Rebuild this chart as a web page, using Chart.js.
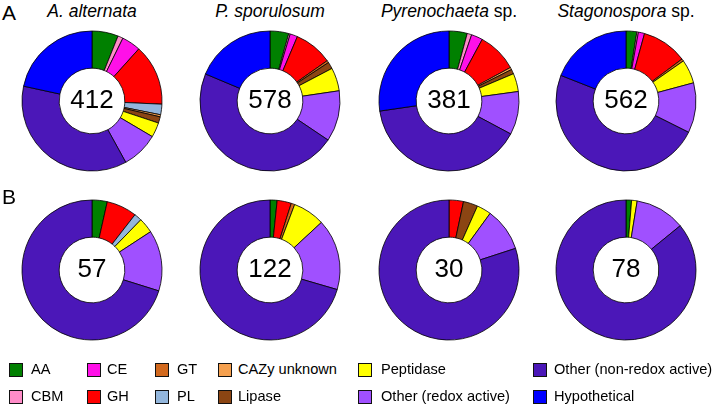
<!DOCTYPE html>
<html>
<head>
<meta charset="utf-8">
<script src="https://cdn.jsdelivr.net/npm/chart.js@4"></script>
<style>
  body { margin: 0; background: #fff; font-family: 'Liberation Sans', Arial, sans-serif; }
  #page { position: relative; width: 715px; height: 406px; overflow: hidden; }
  .pie { position: absolute; width: 150px; height: 150px; }
  .title { position: absolute; top: 1px; font-size: 17.5px; transform: translateX(-50%); white-space: nowrap; color: #000; }
  .panel { position: absolute; left: 2px; font-size: 21px; color: #000; }
  .key { position: absolute; font-size: 14.6px; white-space: nowrap; color: #000; }
  .key span.box { position: absolute; left: 0; top: 1px; width: 12px; height: 12px; border: 1.5px solid #111; }
  .key span.txt { position: absolute; top: -1px; }
</style>
</head>
<body>
<div id="page"></div>
<script>
const categories = ['AA', 'CBM', 'CE', 'GH', 'GT', 'PL', 'CAZy unknown', 'Lipase', 'Peptidase',
  'Other (redox active)', 'Other (non-redox active)', 'Hypothetical'];
const colors = ['#008000', '#ff8cc8', '#ff10e8', '#ff0000', '#d2691e', '#93b6dc', '#f5a04e', '#8b4513',
  '#ffff00', '#a050ff', '#4b17b8', '#0000ff'];

const species = ['A. alternata', 'P. sporulosum', 'Pyrenochaeta', 'Stagonospora'];
const speciesSuffix = ['', '', ' sp.', ' sp.'];

// row A: all proteins
const alternataAll = [25, 5, 18, 58, 0, 10, 2, 6, 14, 35, 150, 89];
const sporulosumAll = [25, 2, 10, 51, 3, 0, 0, 9, 31, 68, 271, 108];
const pyrenochaetaAll = [16, 4, 10, 35, 0, 0, 2, 4, 16, 38, 152, 104];
const stagonosporaAll = [14, 2, 8, 59, 3, 0, 0, 0, 31, 65, 273, 107];
const totalsA = ['412', '578', '381', '562'];

// row B
const alternataB = [2, 0, 0, 4, 0, 1, 0, 0, 2, 8, 40, 0];
const sporulosumB = [2, 0, 0, 4, 1, 0, 0, 0, 9, 20, 86, 0];
const pyrenochaetaB = [0, 0, 0, 1, 0, 0, 0, 1, 1, 3, 24, 0];
const stagonosporaB = [1, 0, 0, 0, 0, 0, 0, 0, 1, 9, 67, 0];
const totalsB = ['57', '122', '30', '78'];

const page = document.getElementById('page');
const colX = [92, 270, 449, 626];
const rowY = [101, 270];

const centerText = {
  id: 'centerText',
  afterDraw(chart, args, opts) {
    const { ctx } = chart;
    const arc = chart.getDatasetMeta(0).data[0];
    ctx.save();
    ctx.font = '26px "Liberation Sans", Arial, sans-serif';
    ctx.fillStyle = '#000';
    ctx.textAlign = 'center';
    ctx.textBaseline = 'middle';
    ctx.fillText(opts.text, arc.x, arc.y);
    ctx.restore();
  },
};

function addPie(values, label, x, y) {
  const canvas = document.createElement('canvas');
  canvas.className = 'pie';
  canvas.width = 150;
  canvas.height = 150;
  canvas.style.left = (x - 75) + 'px';
  canvas.style.top = (y - 75) + 'px';
  page.appendChild(canvas);

  new Chart(canvas, {
    type: 'doughnut',
    data: {
      labels: categories,
      datasets: [{
        data: values,
        backgroundColor: colors,
        borderColor: '#000',
        borderWidth: 0.8,
      }],
    },
    options: {
      responsive: false,
      animation: false,
      radius: 70,
      cutout: 35,
      layout: { padding: 0 },
      plugins: {
        legend: { display: false },
        tooltip: { enabled: false },
        centerText: { text: label },
      },
    },
    plugins: [centerText],
  });
}

const rowA = [alternataAll, sporulosumAll, pyrenochaetaAll, stagonosporaAll];
const rowB = [alternataB, sporulosumB, pyrenochaetaB, stagonosporaB];

rowA.forEach((values, i) => addPie(values, totalsA[i], colX[i], rowY[0]));
rowB.forEach((values, i) => addPie(values, totalsB[i], colX[i], rowY[1]));

species.forEach((name, i) => {
  const div = document.createElement('div');
  div.className = 'title';
  div.style.left = colX[i] + 'px';
  div.innerHTML = `<i>${name}</i>${speciesSuffix[i]}`;
  page.appendChild(div);
});

[['A', 1], ['B', 185]].forEach(([text, top]) => {
  const div = document.createElement('div');
  div.className = 'panel';
  div.style.top = top + 'px';
  div.textContent = text;
  page.appendChild(div);
});

// legend, column-major in two rows
const keyCols = [[9, 31], [87, 107], [155, 177], [218, 238], [358, 381], [533, 554]];
const keyRows = [362, 389];
categories.forEach((name, i) => {
  const col = Math.floor(i / 2);
  const row = i % 2;
  const div = document.createElement('div');
  div.className = 'key';
  div.style.left = keyCols[col][0] + 'px';
  div.style.top = keyRows[row] + 'px';
  div.innerHTML = `<span class="box" style="background:${colors[i]}"></span>` +
    `<span class="txt" style="left:${keyCols[col][1] - keyCols[col][0]}px">${name}</span>`;
  page.appendChild(div);
});
</script>
</body>
</html>
